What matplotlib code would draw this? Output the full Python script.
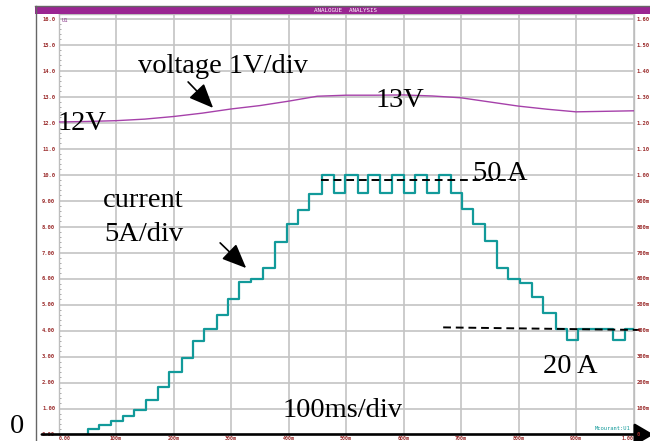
import numpy as np
import matplotlib
matplotlib.use("Agg")
import matplotlib.pyplot as plt
from matplotlib.patches import Rectangle
from matplotlib.lines import Line2D
from matplotlib.ticker import MultipleLocator

W, H = 650, 441

# voltage trace, left scale (V)
volt_t = [0.0, 0.05, 0.1, 0.15, 0.2, 0.25, 0.3, 0.35, 0.4, 0.45, 0.5,
          0.55, 0.6, 0.65, 0.7, 0.75, 0.8, 0.85, 0.9, 0.95, 1.0]
volt_v = [12.02, 12.04, 12.07, 12.13, 12.23, 12.36, 12.52, 12.65, 12.82, 13.01, 13.05,
          13.05, 13.06, 13.02, 12.95, 12.79, 12.63, 12.51, 12.41, 12.43, 12.45]

# current trace, left scale divisions (5 A/div), held levels
cur_t = [0.0, 0.051, 0.071, 0.092, 0.113, 0.132, 0.153, 0.173, 0.193, 0.214,
         0.234, 0.253, 0.275, 0.295, 0.314, 0.334, 0.356, 0.377, 0.397, 0.417,
         0.436, 0.458, 0.479, 0.498, 0.521, 0.538, 0.559, 0.580, 0.600, 0.620,
         0.641, 0.661, 0.682, 0.701, 0.721, 0.741, 0.762, 0.782, 0.803, 0.823,
         0.843, 0.865, 0.884, 0.904, 0.965, 0.986, 1.0]
cur_v = [0.0, 0.22, 0.38, 0.51, 0.70, 0.96, 1.32, 1.83, 2.42, 2.96,
         3.60, 4.04, 4.61, 5.22, 5.85, 5.99, 6.40, 7.39, 8.10, 8.65,
         9.26, 10.0, 9.27, 10.0, 9.27, 10.0, 9.27, 10.0, 9.27, 10.0,
         9.27, 10.0, 9.27, 8.67, 8.11, 7.44, 6.42, 6.00, 5.84, 5.27,
         4.68, 4.04, 3.62, 4.04, 3.62, 4.04, 4.04]

# dashed reference levels
ref50_t = [0.456, 0.795]
ref50_v = [9.79, 9.79]
ref20_t = [0.669, 1.012]
ref20_v = [4.12, 4.02]

left_ticks = list(range(17))
left_labels = ["0.00", "1.00", "2.00", "3.00", "4.00", "5.00", "6.00", "7.00", "8.00",
               "9.00", "10.0", "11.0", "12.0", "13.0", "14.0", "15.0", "16.0"]
right_ticks = [i / 10 for i in range(17)]
right_labels = ["0", "100m", "200m", "300m", "400m", "500m", "600m", "700m", "800m",
                "900m", "1.00", "1.10", "1.20", "1.30", "1.40", "1.50", "1.60"]
x_ticks = [i / 10 for i in range(11)]
x_labels = ["0.00", "100m", "200m", "300m", "400m", "500m", "600m", "700m",
            "800m", "900m", "1.00"]

serif = "Liberation Serif"
lab_col = "#9b2c2c"
grid_col = "#c4c4c4"
volt_col = "#a641aa"
cur_col = "#129a9a"
bar_col = "#9a2592"


def fx(px):
    return px / W


def fy(py):
    return (H - py) / H


fig = plt.figure(figsize=(6.5, 4.41), dpi=100)

# plot box in pixels
x0, x1 = 58.5, 633.5
y_top, y_bot = 14.1, 434.5
ax = fig.add_axes([fx(x0), fy(y_bot), (x1 - x0) / W, (y_bot - y_top) / H])
ax.set_xlim(0, 1.0)
ax.set_ylim(0, (y_bot - y_top) / 26.0)

ax.set_yticks(left_ticks)
ax.set_yticklabels(left_labels)
ax.set_xticks(x_ticks)
ax.set_xticklabels(x_labels)
ax.yaxis.set_minor_locator(MultipleLocator(0.2))
ax.tick_params(axis="y", which="major", length=0, pad=2.5, labelsize=4,
               labelcolor=lab_col)
ax.tick_params(axis="y", which="minor", length=1.5, width=0.6, color="#999999",
               direction="in", right=True)
ax.tick_params(axis="x", length=0, pad=1.0, labelsize=3.6, labelcolor=lab_col)
for lb in ax.get_yticklabels() + ax.get_xticklabels():
    lb.set_fontfamily("DejaVu Sans Mono")
    lb.set_fontweight("bold")
xl = ax.get_xticklabels()
xl[0].set_ha("left")
xl[-1].set_ha("right")
ax.grid(True, color=grid_col, lw=1.2)
ax.set_axisbelow(True)
for s in ["left", "right", "top"]:
    ax.spines[s].set_color("#bdbdbd")
    ax.spines[s].set_linewidth(1.0)
ax.spines["bottom"].set_visible(False)

ax2 = ax.twinx()
ax2.set_ylim(0, (y_bot - y_top) / 26.0 / 10)
ax2.set_yticks(right_ticks)
ax2.set_yticklabels(right_labels)
ax2.tick_params(axis="y", length=0, pad=2.5, labelsize=4, labelcolor=lab_col)
for lb in ax2.get_yticklabels():
    lb.set_fontfamily("DejaVu Sans Mono")
    lb.set_fontweight("bold")
for s in ax2.spines.values():
    s.set_visible(False)

# traces
ax.plot(volt_t, volt_v, color=volt_col, lw=1.0, zorder=3)
ax.plot(cur_t, cur_v, color=cur_col, lw=1.6, drawstyle="steps-post", zorder=3)
ax.plot(ref50_t, ref50_v, color="black", lw=1.4, dashes=(4, 2.5), zorder=4)
ax.plot(ref20_t, ref20_v, color="black", lw=1.4, dashes=(4, 2.5), zorder=4,
        clip_on=False)

# black time axis with arrow
ax.annotate("", xy=(1.035, 0), xytext=(-0.029, 0), xycoords="axes fraction",
            textcoords="axes fraction", annotation_clip=False,
            arrowprops=dict(arrowstyle="-|>,head_length=0.65,head_width=0.38",
                            lw=1.9, color="black", mutation_scale=18,
                            shrinkA=0, shrinkB=0), zorder=6)

# annotations
fs = 20.5
ax.text(0.138, 13.92, "voltage 1V/div", family=serif, fontsize=fs)
ax.text(-0.001, 11.71, "12V", family=serif, fontsize=fs, zorder=5)
ax.text(0.551, 12.6, "13V", family=serif, fontsize=fs, zorder=5)
ax.text(0.0775, 8.75, "current", family=serif, fontsize=fs)
ax.text(0.079, 7.45, "5A/div", family=serif, fontsize=fs)
ax.text(0.7215, 9.79, "50 A", family=serif, fontsize=fs)
ax.text(0.843, 2.35, "20 A", family=serif, fontsize=fs)
ax.text(0.389, 0.685, "100ms/div", family=serif, fontsize=fs)
fig.text(fx(10), fy(433), "0", family=serif, fontsize=fs)

arrow_style = dict(arrowstyle="-|>,head_length=0.75,head_width=0.32", lw=1.2,
                   color="black", mutation_scale=20, shrinkA=0, shrinkB=0)
ax.annotate("", xy=(0.2689, 12.56), xytext=(0.2254, 13.56), arrowprops=arrow_style)
ax.annotate("", xy=(0.3264, 6.40), xytext=(0.2811, 7.37), arrowprops=arrow_style)

ax.text(0.006, 15.93, "U1", fontsize=4, color="#8a3a8a", family="DejaVu Sans Mono",
        va="center")
ax.text(0.995, 0.22, "Mcourant:U1", fontsize=4, color=cur_col, ha="right",
        family="DejaVu Sans Mono", va="center")

# instrument frame and title bar
fig.add_artist(Rectangle((fx(35), fy(13.5)), fx(650) - fx(35), (13.5 - 6.5) / H,
                         transform=fig.transFigure, facecolor=bar_col,
                         edgecolor="none"))
fig.add_artist(Line2D([fx(35), fx(650)], [fy(6), fy(6)], transform=fig.transFigure,
                      color="#666666", lw=1.0))
fig.add_artist(Line2D([fx(35.5), fx(35.5)], [fy(6), fy(441)], transform=fig.transFigure,
                      color="#666666", lw=1.0))
fig.text(fx(345.5), fy(10), "ANALOGUE  ANALYSIS", color="white", fontsize=4.2,
         family="DejaVu Sans Mono", ha="center", va="center")

fig.savefig("out.png", dpi=100)
